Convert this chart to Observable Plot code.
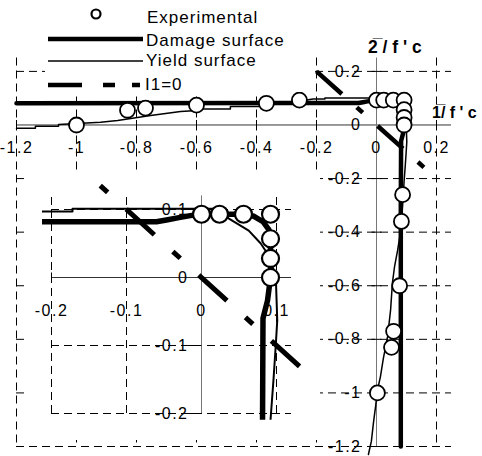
<!DOCTYPE html>
<html><head><meta charset="utf-8">
<script src="https://cdn.jsdelivr.net/npm/d3@7"></script>
<script src="https://cdn.jsdelivr.net/npm/@observablehq/plot@0.6"></script>
<style>
body{margin:0;background:#fff;}
#wrap{position:relative;width:482px;height:456px;overflow:hidden;font-family:"Liberation Sans",Arial,sans-serif;}
#wrap > svg{position:absolute;}
</style></head><body><div id="wrap"></div>
<script>
// ---- data (sigma1/f'c, sigma2/f'c) ----
const expS1 = [-1.0, -0.83, -0.77, -0.6, -0.367, -0.257, 0, 0.024, 0.056, 0.092, 0.092, 0.092, 0.092, 0.087, 0.083, 0.077, 0.057, 0.05, 0.003];
const expS2 = [0.0, 0.055, 0.063, 0.074, 0.081, 0.093, 0.093, 0.093, 0.093, 0.093, 0.057, 0.028, 0.0, -0.26, -0.36, -0.6, -0.77, -0.83, -1.0];

const damageS1 = [-1.2, -0.3, -0.06, -0.045, -0.03, -0.015, 0, 0.03, 0.056, 0.07, 0.082, 0.09, 0.092, 0.092, 0.088, 0.082, 0.081, 0.081];
const damageS2 = [0.081, 0.082, 0.082, 0.085, 0.088, 0.091, 0.093, 0.093, 0.093, 0.09, 0.082, 0.07, 0.05, 0.0, -0.034, -0.06, -0.3, -1.2];

const yieldS1 = [-1.2, -1.137, -1.137, -1.06, -1.06, -0.92, -0.863, -0.753, -0.653, -0.597, -0.577, -0.487, -0.487, -0.387, -0.387, -0.277, -0.212, -0.172, -0.172, 0.02, 0.036, 0.063, 0.079, 0.088, 0.099, 0.101, 0.099, 0.096, 0.092, 0.087, 0.08, 0.07, 0.06, 0.053, 0.047, 0.037, 0.023, 0.013, 0.003, -0.003, -0.01, -0.017, -0.027];
const yieldS2 = [-0.012, -0.012, -0.0045, -0.0045, 0.002, 0.01, 0.017, 0.035, 0.05, 0.054, 0.06, 0.06, 0.069, 0.069, 0.076, 0.085, 0.097, 0.097, 0.101, 0.101, 0.087, 0.069, 0.05, 0.035, 0.003, -0.063, -0.1, -0.15, -0.21, -0.3, -0.4, -0.47, -0.53, -0.59, -0.69, -0.79, -0.87, -0.94, -0.99, -1.05, -1.11, -1.18, -1.23];

// I1 = 0 line (sigma2 = -sigma1), end points as drawn
const i1MainS1 = [-0.2, 0.165];
const i1MainS2 = [0.2, -0.165];
const i1InsetS1 = [-0.135, 0.135];
const i1InsetS2 = [0.135, -0.135];

const mainXTicks = [-1.2, -1, -0.8, -0.6, -0.4, -0.2, 0, 0.2];
const mainYTicks = [0.2, 0, -0.2, -0.4, -0.6, -0.8, -1, -1.2];
const insetXTicks = [-0.2, -0.1, 0, 0.1];
const insetYTicks = [0.1, 0, -0.1, -0.2];
const legendLabels = ["Experimental", "Damage surface", "Yield surface", "I1=0"];
const axisTitles = ["2\u0305 / f ' c", "1\u0305/ f ' c"];

// ---- tables ----
const zip = (a, b) => a.map((x, i) => ({x, y: b[i]}));
const exp = zip(expS1, expS2);
const damage = zip(damageS1, damageS2);
const yieldSurf = zip(yieldS1, yieldS2);
const i1Main = zip(i1MainS1, i1MainS2);
const i1Inset = zip(i1InsetS1, i1InsetS2);
const fmt = d => String(d);

const FONT = '"Liberation Sans", Arial, sans-serif';
const vTick = {draw(c) { c.moveTo(0, -5); c.lineTo(0, 5); }};
const hTick = {draw(c) { c.moveTo(-5, 0); c.lineTo(5, 0); }};
const hTickLeft = {draw(c) { c.moveTo(-13, 0); c.lineTo(0, 0); }};

const wrap = document.getElementById("wrap");

// ---- main chart ----
const main = Plot.plot({
  width: 482, height: 456,
  marginLeft: 16, marginRight: 31, marginTop: 57.5, marginBottom: 10,
  x: {domain: [-1.2, 0.25], axis: null},
  y: {domain: [-1.2, 0.25], axis: null},
  style: {fontFamily: FONT, fontSize: "16px", letterSpacing: "1.5px", background: "transparent", color: "black"},
  marks: [
    Plot.ruleX(mainXTicks.filter(d => d !== 0), {stroke: "black", strokeWidth: 1, strokeDasharray: "8,5"}),
    Plot.ruleY(mainYTicks.filter(d => d !== 0), {stroke: "black", strokeWidth: 1, strokeDasharray: "8,5"}),
    Plot.ruleY([0], {stroke: "#333", strokeWidth: 1}),
    Plot.ruleX([0], {stroke: "#777", strokeWidth: 1}),
    Plot.dot(mainXTicks.filter(d => d !== 0), {x: d => d, y: 0, symbol: vTick, fill: "none", stroke: "black", strokeWidth: 1}),
    Plot.dot(mainYTicks.filter(d => d !== 0), {x: 0, y: d => d, symbol: hTick, fill: "none", stroke: "black", strokeWidth: 1}),
    Plot.text(mainXTicks, {x: d => d, y: 0, dy: 22.5, text: fmt, fontSize: 16, fill: "black"}),
    Plot.text(mainYTicks, {x: 0, y: d => d, dx: -15, textAnchor: "end", text: fmt, fontSize: 16, fill: "black"}),
    Plot.line(yieldSurf, {x: "x", y: "y", stroke: "black", strokeWidth: 1.5}),
    Plot.line(damage, {x: "x", y: "y", stroke: "black", strokeWidth: 4.5}),
    Plot.line(i1Main, {x: "x", y: "y", stroke: "black", strokeWidth: 4.5, strokeDasharray: "34,20,8,20", strokeLinecap: "butt"}),
    Plot.dot(exp, {x: "x", y: "y", r: 7.5, fill: "white", stroke: "black", strokeWidth: 1.8})
  ]
});
main.style.left = "0px"; main.style.top = "0px";
wrap.appendChild(main);

// ---- legend and axis titles ----
const ns = "http://www.w3.org/2000/svg";
const over = document.createElementNS(ns, "svg");
over.setAttribute("width", 482); over.setAttribute("height", 456);
over.style.left = "0px"; over.style.top = "0px";
over.innerHTML = `
<rect x="45" y="0" width="267" height="92" fill="white"/>
<circle cx="96" cy="14" r="4.5" fill="white" stroke="black" stroke-width="2.2"/>
<line x1="48" x2="143" y1="39" y2="39" stroke="black" stroke-width="4.5"/>
<line x1="48" x2="143" y1="61" y2="61" stroke="black" stroke-width="1.5"/>
<line x1="48" x2="140" y1="85" y2="85" stroke="black" stroke-width="4.5" stroke-dasharray="34,21,12,17"/>
<g font-family='${FONT}' font-size="17" letter-spacing="1" fill="black">
<text x="147" y="22.5">${legendLabels[0]}</text>
<text x="146" y="45.5">${legendLabels[1]}</text>
<text x="146" y="66">${legendLabels[2]}</text>
<text x="145" y="89.5">${legendLabels[3]}</text>
</g>
<g font-family='${FONT}' font-weight="bold" fill="black">
<text x="368" y="53" font-size="17.5">${axisTitles[0]}</text>
<text x="432" y="118" font-size="16">${axisTitles[1]}</text>
</g>`;
wrap.appendChild(over);

// ---- inset (zoom of the corner) ----
const inX = [-0.212, 0.12], inY = [-0.21, 0.12];
const inside = d => d.x >= inX[0] && d.x <= inX[1] && d.y >= inY[0] && d.y <= inY[1];
const inset = Plot.plot({
  width: 295, height: 268,
  marginLeft: 17, marginRight: 29, marginTop: 23.4, marginBottom: 20.2,
  x: {domain: inX, axis: null},
  y: {domain: inY, axis: null},
  style: {fontFamily: FONT, fontSize: "16px", letterSpacing: "1.5px", background: "white", color: "black"},
  marks: [
    Plot.ruleX(insetXTicks.filter(d => d !== 0), {y1: -0.2, y2: 0.12, stroke: "black", strokeWidth: 1, strokeDasharray: "8,5"}),
    Plot.ruleY(insetYTicks.filter(d => d !== 0), {x1: -0.2, x2: 0.12, stroke: "black", strokeWidth: 1, strokeDasharray: "8,5"}),
    Plot.ruleY([0], {x1: -0.2, x2: 0.12, stroke: "#333", strokeWidth: 1}),
    Plot.ruleX([0], {y1: -0.2, y2: 0.12, stroke: "#777", strokeWidth: 1}),
    Plot.dot(insetXTicks.filter(d => d !== 0), {x: d => d, y: 0, symbol: vTick, fill: "none", stroke: "black", strokeWidth: 1}),
    Plot.dot(insetYTicks.filter(d => d !== 0), {x: 0, y: d => d, symbol: hTickLeft, fill: "none", stroke: "black", strokeWidth: 1}),
    Plot.text(insetXTicks, {x: d => d, y: 0, dy: 33, text: fmt, fontSize: 16, fill: "black"}),
    Plot.text(insetYTicks, {x: 0, y: d => d, dx: -13, textAnchor: "end", text: fmt, fontSize: 16, fill: "black"}),
    Plot.line(yieldSurf, {x: "x", y: "y", stroke: "black", strokeWidth: 2, clip: true}),
    Plot.line(damage, {x: "x", y: "y", stroke: "black", strokeWidth: 5.5, clip: true}),
    Plot.line(i1Inset, {x: "x", y: "y", stroke: "black", strokeWidth: 5, strokeDasharray: "10,25,38,25", strokeLinecap: "butt"}),
    Plot.dot(exp, {x: "x", y: "y", filter: inside, r: 8.5, fill: "white", stroke: "black", strokeWidth: 2.2})
  ]
});
inset.style.left = "25px"; inset.style.top = "172px";
wrap.appendChild(inset);
</script></body></html>
